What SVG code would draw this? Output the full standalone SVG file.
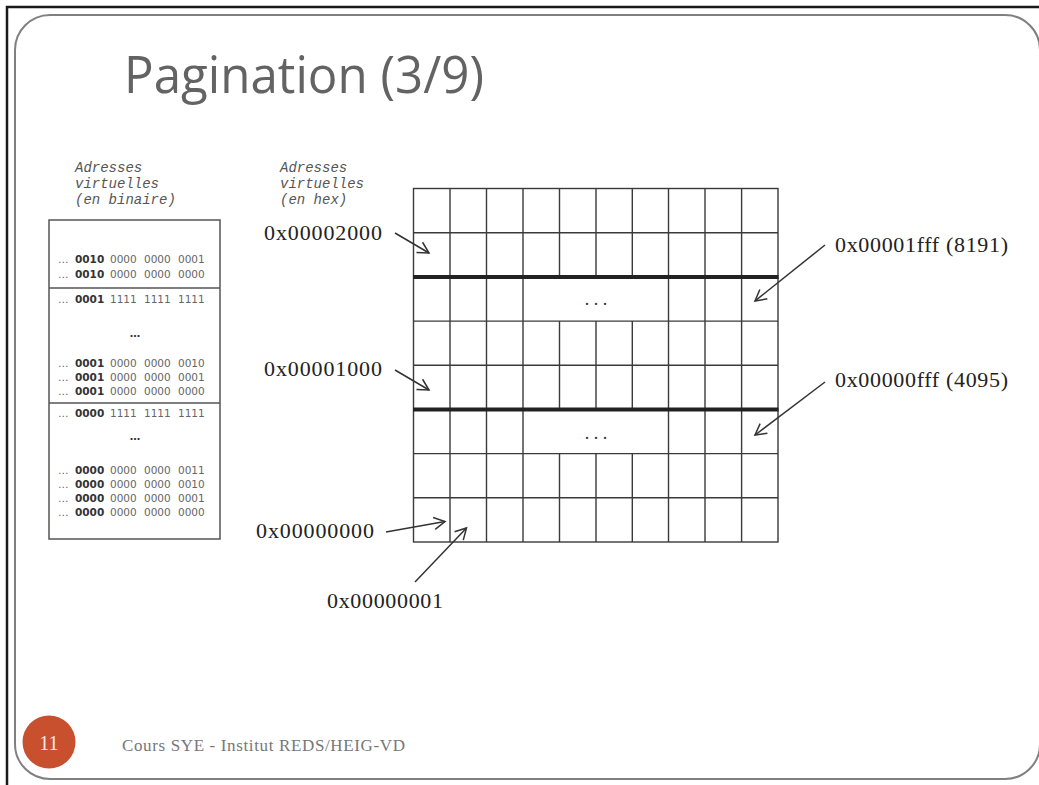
<svg xmlns="http://www.w3.org/2000/svg" width="1039" height="785" viewBox="0 0 1039 785">
  <style>
    .mono { font-family: "Liberation Mono", "DejaVu Sans Mono", monospace; font-style: italic; font-size: 14px; fill: #555; }
    .bin { font-family: "DejaVu Sans", "Liberation Sans", sans-serif; font-size: 10.5px; fill: #666; }
    .bin .b { font-weight: bold; fill: #333; }
    .lbl { font-family: "Liberation Serif", "DejaVu Serif", serif; font-size: 22px; fill: #222; }
    .grid { stroke: #3a3a3a; stroke-width: 1.4; fill: none; }
    .thick { stroke: #222; stroke-width: 4; }
    .conn { stroke: #333; stroke-width: 1.5; fill: none; marker-end: url(#open); }
  </style>
  <defs>
    <marker id="open" markerUnits="userSpaceOnUse" markerWidth="16" markerHeight="16" viewBox="-14 -8 16 16" refX="0" refY="0" orient="auto">
      <path d="M-11,-6 L0,0 L-11,6" fill="none" stroke="#333" stroke-width="1.5"/>
    </marker>
  </defs>

  <rect width="1039" height="785" fill="#fff"/>

  <!-- slide frame -->
  <g id="frame">
    <path d="M7,785 V7 H1039" fill="none" stroke="#1a1a1a" stroke-width="2.5"/>
    <rect x="15" y="15" width="1025" height="764" rx="35" ry="35" fill="none" stroke="#808080" stroke-width="2"/>
  </g>

  <g id="title">
    <text x="124" y="93" font-family="Open Sans, Liberation Sans, sans-serif" font-size="52" fill="#636363" textLength="360" lengthAdjust="spacingAndGlyphs">Pagination (3/9)</text>
  </g>

  <!-- column captions -->
  <g id="caption-bin" class="mono">
    <text x="75" y="172">Adresses</text>
    <text x="75" y="188">virtuelles</text>
    <text x="75" y="204">(en binaire)</text>
  </g>
  <g id="caption-hex" class="mono">
    <text x="280" y="172">Adresses</text>
    <text x="280" y="188">virtuelles</text>
    <text x="280" y="204">(en hex)</text>
  </g>

  <!-- binary address table -->
  <g id="binary-table">
    <rect x="49" y="220" width="171" height="319" fill="none" stroke="#555" stroke-width="1.5"/>
    <line x1="49" y1="288" x2="220" y2="288" stroke="#555" stroke-width="1.5"/>
    <line x1="49" y1="403" x2="220" y2="403" stroke="#555" stroke-width="1.5"/>
    <g class="bin">
      <text y="263"><tspan x="58">…</tspan><tspan class="b" x="75">0010</tspan><tspan x="110">0000</tspan><tspan x="144">0000</tspan><tspan x="178">0001</tspan></text>
      <text y="277.5"><tspan x="58">…</tspan><tspan class="b" x="75">0010</tspan><tspan x="110">0000</tspan><tspan x="144">0000</tspan><tspan x="178">0000</tspan></text>
      <text y="302.5"><tspan x="58">…</tspan><tspan class="b" x="75">0001</tspan><tspan x="110">1111</tspan><tspan x="144">1111</tspan><tspan x="178">1111</tspan></text>
      <text x="135" y="337" text-anchor="middle" class="b">…</text>
      <text y="366.5"><tspan x="58">…</tspan><tspan class="b" x="75">0001</tspan><tspan x="110">0000</tspan><tspan x="144">0000</tspan><tspan x="178">0010</tspan></text>
      <text y="380.5"><tspan x="58">…</tspan><tspan class="b" x="75">0001</tspan><tspan x="110">0000</tspan><tspan x="144">0000</tspan><tspan x="178">0001</tspan></text>
      <text y="395"><tspan x="58">…</tspan><tspan class="b" x="75">0001</tspan><tspan x="110">0000</tspan><tspan x="144">0000</tspan><tspan x="178">0000</tspan></text>
      <text y="416.5"><tspan x="58">…</tspan><tspan class="b" x="75">0000</tspan><tspan x="110">1111</tspan><tspan x="144">1111</tspan><tspan x="178">1111</tspan></text>
      <text x="135" y="440" text-anchor="middle" class="b">…</text>
      <text y="474"><tspan x="58">…</tspan><tspan class="b" x="75">0000</tspan><tspan x="110">0000</tspan><tspan x="144">0000</tspan><tspan x="178">0011</tspan></text>
      <text y="488"><tspan x="58">…</tspan><tspan class="b" x="75">0000</tspan><tspan x="110">0000</tspan><tspan x="144">0000</tspan><tspan x="178">0010</tspan></text>
      <text y="502"><tspan x="58">…</tspan><tspan class="b" x="75">0000</tspan><tspan x="110">0000</tspan><tspan x="144">0000</tspan><tspan x="178">0001</tspan></text>
      <text y="516"><tspan x="58">…</tspan><tspan class="b" x="75">0000</tspan><tspan x="110">0000</tspan><tspan x="144">0000</tspan><tspan x="178">0000</tspan></text>
    </g>
  </g>

  <!-- byte grid: 10 columns x 8 rows, two merged "..." bands -->
  <g id="memory-grid">
    <g class="grid">
      <rect x="413.5" y="188.5" width="364.5" height="353.5"/>
      <line x1="413.5" y1="232.7" x2="778" y2="232.7"/>
      <line x1="413.5" y1="321.1" x2="778" y2="321.1"/>
      <line x1="413.5" y1="365.3" x2="778" y2="365.3"/>
      <line x1="413.5" y1="453.6" x2="778" y2="453.6"/>
      <line x1="413.5" y1="497.8" x2="778" y2="497.8"/>
      <line x1="450" y1="188.5" x2="450" y2="542"/>
      <line x1="486.5" y1="188.5" x2="486.5" y2="542"/>
      <line x1="523" y1="188.5" x2="523" y2="542"/>
      <path d="M559.5,188.5 V276.9 M559.5,321.1 V409.5 M559.5,453.6 V542"/>
      <path d="M596,188.5 V276.9 M596,321.1 V409.5 M596,453.6 V542"/>
      <path d="M632.3,188.5 V276.9 M632.3,321.1 V409.5 M632.3,453.6 V542"/>
      <line x1="668.5" y1="188.5" x2="668.5" y2="542"/>
      <line x1="705" y1="188.5" x2="705" y2="542"/>
      <line x1="741.6" y1="188.5" x2="741.6" y2="542"/>
    </g>
    <line class="thick" x1="413" y1="276.9" x2="778.5" y2="276.9"/>
    <line class="thick" x1="413" y1="409.5" x2="778.5" y2="409.5"/>
    <text x="596" y="305" text-anchor="middle" font-family="Liberation Serif, serif" font-size="18" fill="#333">. . .</text>
    <text x="596" y="439" text-anchor="middle" font-family="Liberation Serif, serif" font-size="18" fill="#333">. . .</text>
  </g>

  <!-- address labels -->
  <g id="label-2000"><text class="lbl" x="264" y="240" textLength="118">0x00002000</text></g>
  <g id="label-1000"><text class="lbl" x="264" y="376" textLength="118">0x00001000</text></g>
  <g id="label-0000"><text class="lbl" x="256" y="538" textLength="118">0x00000000</text></g>
  <g id="label-0001"><text class="lbl" x="327" y="608" textLength="116">0x00000001</text></g>
  <g id="label-1fff"><text class="lbl" x="835" y="252" textLength="173">0x00001fff (8191)</text></g>
  <g id="label-0fff"><text class="lbl" x="835" y="387" textLength="173">0x00000fff (4095)</text></g>

  <!-- pointer arrows -->
  <g id="connectors">
    <line class="conn" x1="395" y1="233" x2="429" y2="253"/>
    <line class="conn" x1="395" y1="370" x2="429" y2="390"/>
    <line class="conn" x1="386" y1="532" x2="445" y2="521.5"/>
    <line class="conn" x1="415" y1="582" x2="466.5" y2="528"/>
    <line class="conn" x1="825" y1="245" x2="755" y2="301"/>
    <line class="conn" x1="825" y1="382" x2="755" y2="435"/>
  </g>

  <!-- footer -->
  <g id="footer">
    <circle cx="49" cy="742" r="26.5" fill="#c8502f"/>
    <text x="49" y="749.5" text-anchor="middle" font-family="Liberation Serif, serif" font-size="20" fill="#fbe9e3">11</text>
    <text x="122" y="751" font-family="Liberation Serif, serif" font-size="17" fill="#777" textLength="283">Cours SYE - Institut REDS/HEIG-VD</text>
  </g>
</svg>
